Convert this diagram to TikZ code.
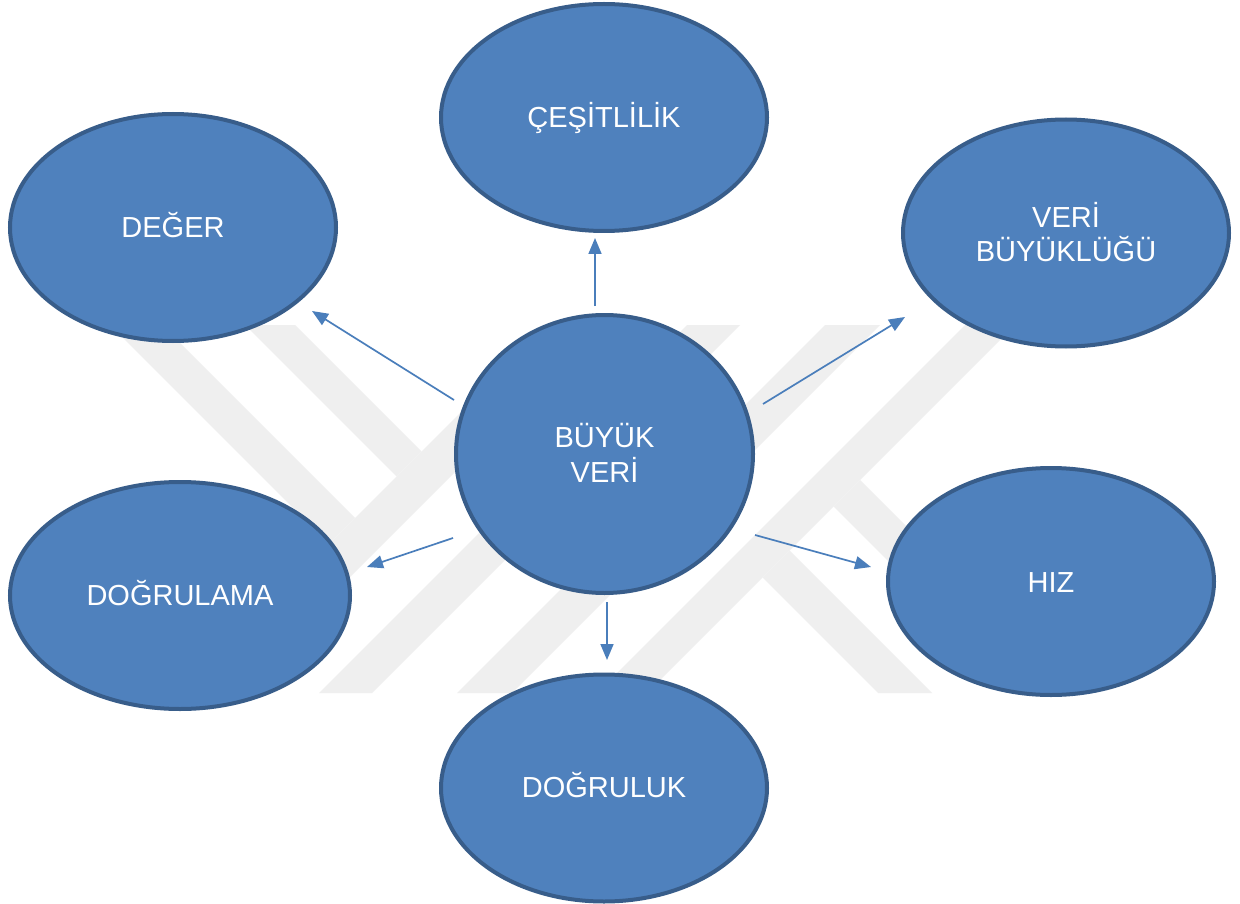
\documentclass[tikz,border=0pt]{standalone}
\usepackage{fontspec}
\setmainfont{Liberation Sans}
\usetikzlibrary{shapes.geometric,arrows.meta}
\definecolor{ofill}{RGB}{79,129,189}
\definecolor{oline}{RGB}{56,93,138}
\definecolor{oarrow}{RGB}{74,126,187}
\definecolor{wmark}{RGB}{239,239,239}
\tikzset{
  bubble/.style={ellipse, draw=oline, line width=4pt, fill=ofill,
    minimum width=326pt, minimum height=227pt, inner sep=0pt},
  hub/.style={bubble, minimum width=297pt, minimum height=278pt},
  lbl/.style={text=white, font=\fontsize{29}{34}\selectfont, inner sep=0pt,
    text height=20.8pt, text depth=0pt},
  link/.style={draw=oarrow, line width=1.7pt, -{Triangle[length=16pt,width=13pt]}},
  wm/.style={fill=wmark}
}
\begin{document}
\begin{tikzpicture}[x=1pt,y=-1pt]
\useasboundingbox (0,0) rectangle (1240,904);
\fill[white] (0,0) rectangle (1240,904);
% watermark
\fill[wm] (548,325) -- (602,325) -- (234,693) -- (180,693) -- cycle;
\fill[wm] (687,325) -- (740,325) -- (372,693) -- (319,693) -- cycle;
\fill[wm] (825,325) -- (880,325) -- (512,693) -- (457,693) -- cycle;
\fill[wm] (965,325) -- (1015,325) -- (647,693) -- (597,693) -- cycle;
\fill[wm] (110,325) -- (162,325) -- (355,518) -- (329,544) -- cycle;
\fill[wm] (245,325) -- (295,325) -- (421.5,451.5) -- (396.5,476.5) -- cycle;
\fill[wm] (762.5,577.5) -- (789.5,550.5) -- (932,693) -- (878,693) -- cycle;
\fill[wm] (833.5,506.5) -- (860,480) -- (1073,693) -- (1020,693) -- cycle;
% bubbles
\node[hub] (big) at (604.5,454) {};
\node[bubble] (ces) at (604,117.5) {};
\node[bubble] (deg) at (173,227.5) {};
\node[bubble] (vb) at (1066,233) {};
\node[bubble, minimum width=340pt] (dgm) at (180,595.5) {};
\node[bubble] (hiz) at (1051,581.5) {};
\node[bubble] (dgk) at (604,788) {};
% labels
\node[lbl] (tbig1) at (604.5,437) {BÜYÜK};
\node[lbl] (tbig2) at (604.5,472) {VERİ};
\node[lbl] (tces) at (604,117.5) {ÇEŞİTLİLİK};
\node[lbl] (tdeg) at (173,227.5) {DEĞER};
\node[lbl] (tvb1) at (1066,217) {VERİ};
\node[lbl] (tvb2) at (1066,251) {BÜYÜKLÜĞÜ};
\node[lbl] (tdgm) at (180,595.5) {DOĞRULAMA};
\node[lbl] (thiz) at (1051,582) {HIZ};
\node[lbl] (tdgk) at (604,787.5) {DOĞRULUK};
% connector ends
\coordinate (u0) at (595,306);  \coordinate (u1) at (595,238);
\coordinate (l0) at (454,400);  \coordinate (l1) at (312,311);
\coordinate (r0) at (763,404);  \coordinate (r1) at (905,317);
\coordinate (dl0) at (453,538); \coordinate (dl1) at (367,567);
\coordinate (dr0) at (755,535); \coordinate (dr1) at (871,567);
\coordinate (d0) at (607,602);  \coordinate (d1) at (607,660);
\draw[link] (u0) -- (u1);
\draw[link] (l0) -- (l1);
\draw[link] (r0) -- (r1);
\draw[link] (dl0) -- (dl1);
\draw[link] (dr0) -- (dr1);
\draw[link] (d0) -- (d1);
\end{tikzpicture}
\end{document}
